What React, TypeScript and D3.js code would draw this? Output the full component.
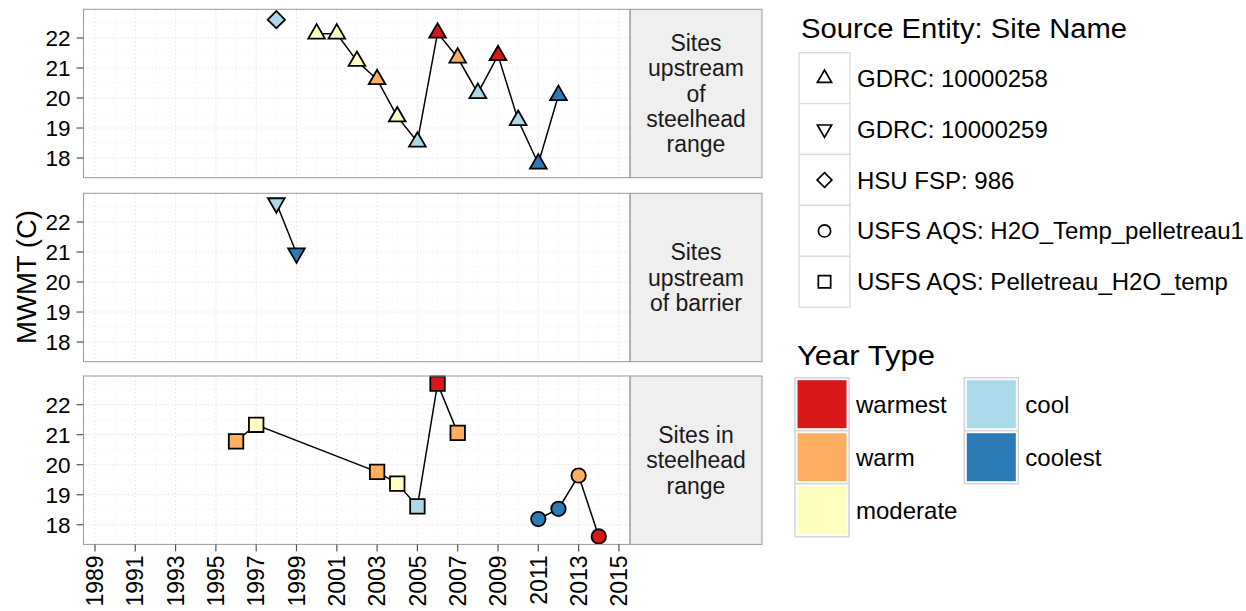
import React from "react";
import * as d3 from "d3";

// ---- data ----
const yearTypes = ["warmest", "warm", "moderate", "cool", "coolest"];
const yearTypeColors = ["#D7191C", "#FDAE61", "#FFFFBF", "#ABD9E9", "#2C7BB6"];

const siteNames = [
  "GDRC: 10000258",
  "GDRC: 10000259",
  "HSU FSP: 986",
  "USFS AQS: H2O_Temp_pelletreau1",
  "USFS AQS: Pelletreau_H2O_temp",
];
const siteShapes = ["triangleUp", "triangleDown", "diamond", "circle", "square"];

const panelLabels = [
  ["Sites", "upstream", "of", "steelhead", "range"],
  ["Sites", "upstream", "of barrier"],
  ["Sites in", "steelhead", "range"],
];

// GDRC: 10000258 (panel 0)
const gdrc258Years = [2000, 2001, 2002, 2003, 2004, 2005, 2006, 2007, 2008, 2009, 2010, 2011, 2012];
const gdrc258Values = [22.14, 22.14, 21.23, 20.62, 19.38, 18.54, 22.17, 21.34, 20.16, 21.42, 19.26, 17.81, 20.09];
const gdrc258Types = ["moderate", "moderate", "moderate", "warm", "moderate", "cool", "warmest", "warm", "cool", "warmest", "cool", "coolest", "coolest"];

// HSU FSP: 986 (panel 0)
const hsuYears = [1998];
const hsuValues = [22.61];
const hsuTypes = ["cool"];

// GDRC: 10000259 (panel 1)
const gdrc259Years = [1998, 1999];
const gdrc259Values = [22.63, 20.96];
const gdrc259Types = ["cool", "coolest"];

// USFS AQS: Pelletreau_H2O_temp (panel 2)
const pelYears = [1996, 1997, 2003, 2004, 2005, 2006, 2007];
const pelValues = [20.78, 21.33, 19.76, 19.37, 18.61, 22.7, 21.06];
const pelTypes = ["warm", "moderate", "warm", "moderate", "cool", "warmest", "warm"];

// USFS AQS: H2O_Temp_pelletreau1 (panel 2)
const h2oYears = [2011, 2012, 2013, 2014];
const h2oValues = [18.19, 18.53, 19.64, 17.61];
const h2oTypes = ["coolest", "coolest", "warm", "warmest"];

const xTicks = [1989, 1991, 1993, 1995, 1997, 1999, 2001, 2003, 2005, 2007, 2009, 2011, 2013, 2015];
const yTicks = [18, 19, 20, 21, 22];

const series = [
  { site: 0, panel: 0, years: gdrc258Years, values: gdrc258Values, types: gdrc258Types },
  { site: 2, panel: 0, years: hsuYears, values: hsuValues, types: hsuTypes },
  { site: 1, panel: 1, years: gdrc259Years, values: gdrc259Values, types: gdrc259Types },
  { site: 4, panel: 2, years: pelYears, values: pelValues, types: pelTypes },
  { site: 3, panel: 2, years: h2oYears, values: h2oValues, types: h2oTypes },
];

// ---- layout ----
const FONT = "'Liberation Sans', Arial, Helvetica, sans-serif";
const PL = 83.5;
const PR = 630;
const SR = 762;
const panelTops = [9.3, 193.3, 376];
const PH = 168.4;

const color = d3.scaleOrdinal<string, string>().domain(yearTypes).range(yearTypeColors);
const x = d3.scaleLinear().domain([1988.43, 2015.55]).range([PL, PR]);
const yFor = (i: number) =>
  d3.scaleLinear().domain([17.345, 22.955]).range([panelTops[i] + PH, panelTops[i]]);

function markerPath(shape: string, k: number) {
  switch (shape) {
    case "triangleUp":
    case "triangleDown":
      return d3.symbol().type(d3.symbolTriangle).size(121 * k * k)()!;
    case "diamond":
      return d3.symbol().type(d3.symbolSquare).size(150 * k * k)()!;
    case "circle":
      return d3.symbol().type(d3.symbolCircle).size(163 * k * k)()!;
    default:
      return d3.symbol().type(d3.symbolSquare).size(210 * k * k)()!;
  }
}
function markerRot(shape: string) {
  if (shape === "triangleDown") return 180;
  if (shape === "diamond") return 45;
  return 0;
}

export default function App() {
  const line = d3.line<[number, number]>();
  return (
    <svg width={1246} height={611} style={{ display: "block", position: "absolute", left: 0, top: 0, background: "#fff" }} fontFamily={FONT}>
      <rect x={0} y={0} width={1246} height={611} fill="#fff" />
      {panelTops.map((top, i) => {
        const y = yFor(i);
        const minorX = d3.range(1990, 2015, 2);
        const minorY = d3.range(17.5, 23, 1);
        return (
          <g key={i}>
            <rect x={PL} y={top} width={PR - PL} height={PH} fill="#fff" />
            {minorX.map((v) => (
              <line key={"mx" + v} x1={x(v)} x2={x(v)} y1={top} y2={top + PH} stroke="#f3f3f3" strokeWidth={0.8} strokeDasharray="2,2" />
            ))}
            {minorY.map((v) => (
              <line key={"my" + v} x1={PL} x2={PR} y1={y(v)} y2={y(v)} stroke="#f3f3f3" strokeWidth={0.8} strokeDasharray="2,2" />
            ))}
            {xTicks.map((v) => (
              <line key={"gx" + v} x1={x(v)} x2={x(v)} y1={top} y2={top + PH} stroke="#e6e6e6" strokeWidth={1} strokeDasharray="2,2" />
            ))}
            {yTicks.map((v) => (
              <line key={"gy" + v} x1={PL} x2={PR} y1={y(v)} y2={y(v)} stroke="#e6e6e6" strokeWidth={1} strokeDasharray="2,2" />
            ))}
            {yTicks.map((v) => (
              <g key={"ty" + v}>
                <line x1={PL - 7} x2={PL} y1={y(v)} y2={y(v)} stroke="#555" strokeWidth={1.2} />
                <text x={PL - 13} y={y(v) + 8} textAnchor="end" fontSize={22.5} fill="#000">{v}</text>
              </g>
            ))}
            {/* strip */}
            <rect x={PR} y={top} width={SR - PR} height={PH} fill="#efefef" stroke="#999" strokeWidth={1} />
            {panelLabels[i].map((t, j) => {
              const n = panelLabels[i].length;
              const cy = top + PH / 2 + (j - (n - 1) / 2) * 25.3 + 8.2;
              return (
                <text key={j} x={(PR + SR) / 2} y={cy} textAnchor="middle" fontSize={23} fill="#1a1a1a">{t}</text>
              );
            })}
            {/* series */}
            {series.filter((s) => s.panel === i).map((s, si) => {
              const pts: [number, number][] = s.years.map((yr, k) => [x(yr), y(s.values[k])]);
              const shape = siteShapes[s.site];
              return (
                <g key={si}>
                  {pts.length > 1 && <path d={line(pts)!} fill="none" stroke="#000" strokeWidth={1.5} />}
                  {pts.map((p, k) => (
                    <path key={k} d={markerPath(shape, 1)} transform={`translate(${p[0]},${p[1]}) rotate(${markerRot(shape)})`}
                      fill={color(s.types[k])} stroke="#000" strokeWidth={1.8} />
                  ))}
                </g>
              );
            })}
            <rect x={PL} y={top} width={PR - PL} height={PH} fill="none" stroke="#999" strokeWidth={1} />
          </g>
        );
      })}
      {/* x axis */}
      {xTicks.map((v) => {
        const bot = panelTops[2] + PH;
        return (
          <g key={"tx" + v}>
            <line x1={x(v)} x2={x(v)} y1={bot} y2={bot + 7} stroke="#555" strokeWidth={1.2} />
            <text transform={`translate(${x(v) + 8.2},${bot + 11}) rotate(-90)`} textAnchor="end" fontSize={23} fill="#000">{v}</text>
          </g>
        );
      })}
      {/* y title */}
      <text transform={`translate(36,277) rotate(-90)`} textAnchor="middle" fontSize={28} fill="#000" textLength={134} lengthAdjust="spacingAndGlyphs">MWMT (C)</text>

      {/* legend: source */}
      <text x={801} y={38} fontSize={27} fill="#000" textLength={326} lengthAdjust="spacingAndGlyphs">Source Entity: Site Name</text>
      {siteNames.map((name, i) => {
        const top = 52.7 + i * 50.9;
        const shape = siteShapes[i];
        return (
          <g key={name}>
            <rect x={799} y={top} width={51} height={50.9} fill="#fff" stroke="#d9d9d9" strokeWidth={1.3} />
            <path d={markerPath(shape, 0.85)} transform={`translate(824.5,${top + 25.5}) rotate(${markerRot(shape)})`} fill="none" stroke="#000" strokeWidth={1.7} />
            <text x={857} y={top + 25.5 + 8.5} fontSize={24} fill="#000">{name}</text>
          </g>
        );
      })}

      {/* legend: year type */}
      <text x={797} y={365} fontSize={28} fill="#000" textLength={138} lengthAdjust="spacingAndGlyphs">Year Type</text>
      {yearTypes.map((t, i) => {
        const col = i < 3 ? 0 : 1;
        const row = i < 3 ? i : i - 3;
        const kx = col === 0 ? 795 : 964.3;
        const ky = 377.7 + row * 53;
        return (
          <g key={t}>
            <rect x={kx} y={ky} width={54} height={53} fill="#fff" stroke="#d4d4d4" strokeWidth={1.5} />
            <rect x={kx + 2.5} y={ky + 2.5} width={49} height={48} fill={color(t)} />
            <text x={kx + 61} y={ky + 26.5 + 8.5} fontSize={24} fill="#000">{t}</text>
          </g>
        );
      })}
    </svg>
  );
}
